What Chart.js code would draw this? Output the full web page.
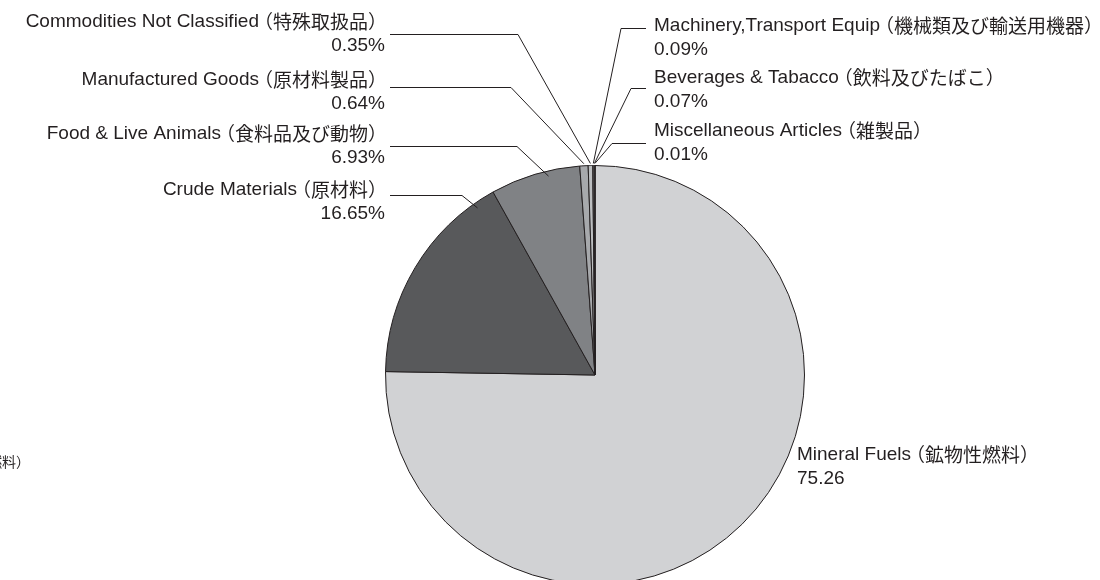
<!DOCTYPE html>
<html>
<head>
<meta charset="utf-8">
<script src="https://cdn.jsdelivr.net/npm/chart.js@4.4.0/dist/chart.umd.min.js"></script>
<style>
  html, body { margin: 0; padding: 0; background: #fff; overflow: hidden; }
  #wrap { position: relative; width: 1100px; height: 600px; }
</style>
</head>
<body>
<div id="wrap"><canvas id="pie"></canvas></div>
<script>
// data (clockwise from 12 o'clock)
var names = [
  'Mineral Fuels（鉱物性燃料）',
  'Crude Materials（原材料）',
  'Food & Live Animals（食料品及び動物）',
  'Manufactured Goods（原材料製品）',
  'Commodities Not Classified（特殊取扱品）',
  'Machinery,Transport Equip（機械類及び輸送用機器）',
  'Beverages & Tabacco（飲料及びたばこ）',
  'Miscellaneous Articles（雑製品）'
];
var shares = [75.26, 16.65, 6.93, 0.64, 0.35, 0.09, 0.07, 0.01];
var valueText = ['75.26', '16.65%', '6.93%', '0.64%', '0.35%', '0.09%', '0.07%', '0.01%'];

var colors = ['#d1d2d4', '#58595b', '#808285', '#a7a9ac', '#bcbec0', '#e6e7e8', '#f1f1f2', '#ffffff'];

var LATIN = "19px 'Liberation Sans', Arial, sans-serif";
var CJK = "19px 'Noto Sans CJK JP', sans-serif";

// label layout: text anchor, leader elbow, where on the slice the line ends
var labelPos = [
  { x: 797, y: 455, align: 'left', line: null },
  { x: 385, y: 190, align: 'right', line: { y: 195, elbow: 462, t: 0.9, r: 0.975 } },
  { x: 385, y: 134, align: 'right', line: { y: 146, elbow: 517, t: 0.64, r: 0.975 } },
  { x: 385, y: 80, align: 'right', line: { y: 87, elbow: 511, t: 0.5, r: 1.01 } },
  { x: 385, y: 22, align: 'right', line: { y: 34, elbow: 518, t: 0.5, r: 1.01 } },
  { x: 654, y: 26, align: 'left', line: { y: 28, elbow: 621, t: 0.5, r: 1.01 } },
  { x: 654, y: 78, align: 'left', line: { y: 88, elbow: 631, t: 0.5, r: 1.01 } },
  { x: 654, y: 131, align: 'left', line: { y: 143, elbow: 612, t: 0.5, r: 1.01 } }
];

// latin part and the bracketed japanese part use different fonts
function drawName(ctx, text, x, y, align) {
  var k = text.indexOf('（');
  var a = text.slice(0, k), b = text.slice(k);
  ctx.font = LATIN;
  var wa = ctx.measureText(a).width;
  ctx.font = CJK;
  var wb = ctx.measureText(b).width - 7;
  var left = align === 'right' ? x - wa - wb : x;
  ctx.textAlign = 'left';
  ctx.font = LATIN;
  ctx.fillText(a, left, y);
  ctx.font = CJK;
  ctx.fillText(b, left + wa - 5, y);
}

var leaderLabels = {
  id: 'leaderLabels',
  afterDraw: function(chart) {
    var ctx = chart.ctx;
    var arcs = chart.getDatasetMeta(0).data;
    ctx.save();
    ctx.fillStyle = '#231f20';
    ctx.strokeStyle = '#231f20';
    ctx.lineWidth = 1;
    ctx.textBaseline = 'middle';
    for (var i = 0; i < arcs.length; i++) {
      var a = arcs[i];
      var p = labelPos[i];
      drawName(ctx, names[i], p.x, p.y, p.align);
      ctx.font = LATIN;
      ctx.textAlign = p.align;
      ctx.fillText(valueText[i], p.x, p.y + 24);
      if (p.line) {
        var ang = a.startAngle + p.line.t * (a.endAngle - a.startAngle);
        var ex = a.x + Math.cos(ang) * a.outerRadius * p.line.r;
        var ey = a.y + Math.sin(ang) * a.outerRadius * p.line.r;
        var sx = p.align === 'right' ? p.x + 5 : p.x - 8;
        ctx.beginPath();
        ctx.moveTo(sx, p.line.y + 0.5);
        ctx.lineTo(p.line.elbow, p.line.y + 0.5);
        ctx.lineTo(ex, ey);
        ctx.stroke();
      }
    }
    // clipped leftover text at the left edge
    ctx.font = "14px 'Noto Sans CJK JP', sans-serif";
    ctx.textAlign = 'right';
    ctx.fillText('性燃料）', 30, 462);
    ctx.restore();
  }
};

var ctx = document.getElementById('pie');
var pieChart = new Chart(ctx, {
  type: 'pie',
  data: {
    labels: names,
    datasets: [{
      data: shares,
      backgroundColor: colors,
      borderColor: '#231f20',
      borderWidth: 1
    }]
  },
  options: {
    responsive: true,
    maintainAspectRatio: false,
    animation: false,
    layout: { padding: { left: 385, right: 295, top: 165, bottom: 15 } },
    plugins: {
      legend: { display: false },
      tooltip: { enabled: false }
    }
  },
  plugins: [leaderLabels]
});
</script>
</body>
</html>
